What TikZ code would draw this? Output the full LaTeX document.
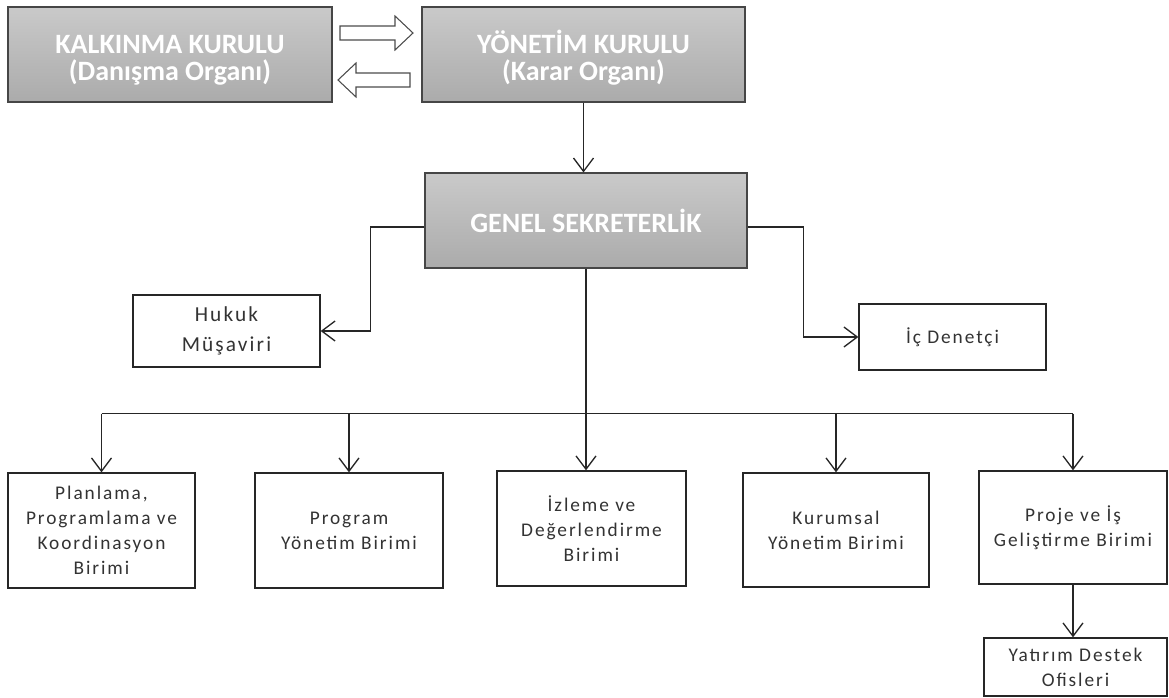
\documentclass[tikz,border=0pt]{standalone}
\usepackage{fontspec}
\setmainfont{Carlito}
\newfontfamily\unitfont[LetterSpace=10]{Carlito}
\usetikzlibrary{arrows.meta}
\definecolor{txt}{gray}{0.2}
\newcommand{\tstrut}{\rule{0pt}{21.75pt}}
\begin{document}
\begin{tikzpicture}[x=0.75pt,y=-0.75pt,
  title/.style={draw=gray!55!black, line width=0.8pt, top color=gray!42, bottom color=gray!66, inner sep=0pt, text=white, font=\fontsize{21}{20.25}\selectfont\bfseries, align=center},
  unit/.style={draw=black!85, line width=1pt, fill=white, inner sep=0pt, text=txt, font=\unitfont\fontsize{14.5}{18.75}\selectfont, align=center},
  bigunit/.style={unit, font=\unitfont\fontsize{16}{22.5}\selectfont},
  conn/.style={draw=black!85, line width=1pt},
  arr/.style={conn, -{Straight Barb[length=10pt,width=15pt,line width=1pt]}},
  block/.style={draw=black!70, line width=0.8pt, fill=white}]
\useasboundingbox (0,0) rectangle (1169,697);

\node[title, minimum width=243pt, minimum height=71.25pt] (kk) at (170,54.5) {\tstrut KALKINMA KURULU\\(Danışma Organı)};
\node[title, minimum width=242.25pt, minimum height=71.25pt] (yk) at (583.5,54.5) {\tstrut YÖNETİM KURULU\\(Karar Organı)};
\node[title, minimum width=241.5pt, minimum height=71.25pt] (gs) at (586,220.5) {GENEL SEKRETERLİK};

\node[bigunit, minimum width=140.25pt, minimum height=54pt] (hm) at (226.5,331) {Hukuk\\Müşaviri};
\node[unit, minimum width=140.25pt, minimum height=49.5pt] (id) at (952.5,337) {İç Denetçi};

\node[unit, minimum width=140.25pt, minimum height=86.25pt] (pp) at (101.5,530.5) {Planlama,\\Programlama ve\\Koordinasyon\\Birimi};
\node[unit, minimum width=141pt, minimum height=86.25pt] (py) at (349,530.5) {Program\\Yönetim Birimi};
\node[unit, minimum width=141.75pt, minimum height=86.25pt] (iz) at (591.5,528.5) {İzleme ve\\Değerlendirme\\Birimi};
\node[unit, minimum width=139.5pt, minimum height=85.5pt] (ky) at (836,530) {Kurumsal\\Yönetim Birimi};
\node[unit, minimum width=141pt, minimum height=84.75pt] (pi) at (1073,527.5) {Proje ve İş\\Geliştirme Birimi};
\node[unit, minimum width=137.25pt, minimum height=43.5pt] (yd) at (1075.5,667) {Yatırım Destek\\Ofisleri};

% block arrows between the councils
\draw[block] (340,26) -- (395,26) -- (395,16) -- (413,33) -- (395,50) -- (395,40) -- (340,40) -- cycle;
\draw[block] (410,73) -- (356,73) -- (356,63) -- (338,80) -- (356,97) -- (356,87) -- (410,87) -- cycle;

\draw[arr] (yk.south) -- (yk.south |- gs.north);
\draw[arr] ([yshift=-4.9pt]gs.west) -| ([xshift=37.5pt]hm.east) -- (hm.east);
\draw[arr] ([yshift=-4.9pt]gs.east) -| ([xshift=-41.25pt]id.west) -- (id.west);

\coordinate (bus) at ([yshift=-108.75pt]gs.south);
\draw[arr] (gs.south) -- (gs.south |- iz.north);
\draw[conn] (pp.north |- bus) -- (pi.north |- bus);
\foreach \n in {pp,py,ky,pi} \draw[arr] (\n.north |- bus) -- (\n.north);
\draw[arr] (pi.south) -- (pi.south |- yd.north);
\end{tikzpicture}
\end{document}
